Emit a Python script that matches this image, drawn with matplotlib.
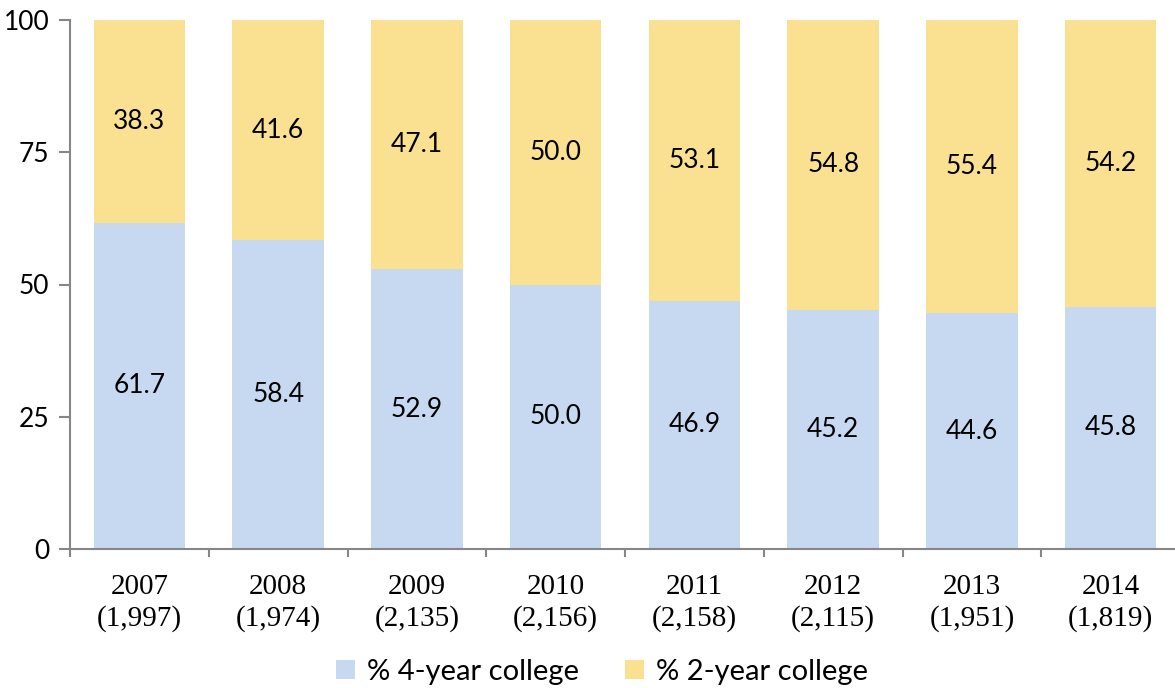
import matplotlib
matplotlib.use("Agg")
import matplotlib.pyplot as plt
import numpy as np

years = ["2007", "2008", "2009", "2010", "2011", "2012", "2013", "2014"]
counts = ["1,997", "1,974", "2,135", "2,156", "2,158", "2,115", "1,951", "1,819"]
four_year = [61.7, 58.4, 52.9, 50.0, 46.9, 45.2, 44.6, 45.8]
two_year = [38.3, 41.6, 47.1, 50.0, 53.1, 54.8, 55.4, 54.2]

blue = "#C6D9F0"
yellow = "#F9E191"
grey = "#868686"

fig = plt.figure(figsize=(11.75, 6.88), dpi=100)
ax = fig.add_axes([70 / 1175, 139 / 688, 1110 / 1175, 529 / 688])

x = np.arange(len(years))
b1 = ax.bar(x, four_year, width=0.66, color=blue, label="% 4-year college")
b2 = ax.bar(x, two_year, width=0.66, bottom=four_year, color=yellow, label="% 2-year college")

for i in range(len(x)):
    ax.text(x[i], four_year[i] / 2, f"{four_year[i]:.1f}", ha="center", va="center",
            fontsize=19, family="Lato")
    ax.text(x[i], four_year[i] + two_year[i] / 2, f"{two_year[i]:.1f}", ha="center", va="center",
            fontsize=19, family="Lato")

ax.set_xlim(-0.5, len(years) - 0.5)
ax.set_ylim(0, 100)
ax.set_yticks([0, 25, 50, 75, 100])
ax.tick_params(axis="y", labelsize=19, length=8, width=1.5, color=grey, pad=7)
for lab in ax.get_yticklabels():
    lab.set_family("Lato")

ax.set_xticks(x)
ax.set_xticklabels([f"{y}\n({c})" for y, c in zip(years, counts)],
                   family="Liberation Serif", fontsize=21, linespacing=1.25)
ax.tick_params(axis="x", which="major", length=0, pad=18)
ax.set_xticks(np.arange(-0.5, len(years), 1.0), minor=True)
ax.tick_params(axis="x", which="minor", length=6, width=1.5, color=grey)

for s in ["top", "right"]:
    ax.spines[s].set_visible(False)
for s in ["left", "bottom"]:
    ax.spines[s].set_color(grey)
    ax.spines[s].set_linewidth(1.5)

leg = fig.legend(handles=[b1, b2], loc="center", bbox_to_anchor=(602 / 1175, 1 - 672 / 688),
                 ncol=2, frameon=False, prop={"family": "Lato", "size": 21},
                 handlelength=0.65, handleheight=0.65, handletextpad=0.4, columnspacing=1.6)

fig.savefig("out.png", dpi=100)
